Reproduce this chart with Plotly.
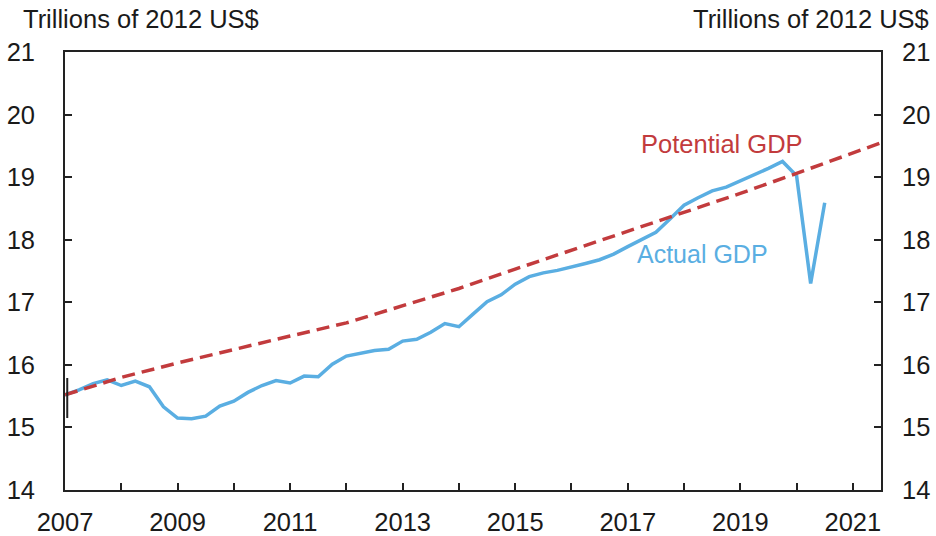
import plotly.graph_objects as go

# ---- data ----
actual_x = [2007 + i * 0.25 for i in range(55)]  # 2007Q1 .. 2020Q3, plotted at quarter start
actual_gdp = [
    15.52, 15.60, 15.70, 15.76,
    15.67, 15.74, 15.65, 15.33,
    15.15, 15.14, 15.18, 15.34,
    15.42, 15.56, 15.67, 15.75,
    15.71, 15.82, 15.81, 16.01,
    16.14, 16.19, 16.23, 16.25,
    16.38, 16.41, 16.52, 16.66,
    16.61, 16.81, 17.01, 17.12,
    17.29, 17.41, 17.47, 17.51,
    17.56, 17.62, 17.68, 17.77,
    17.89, 18.00, 18.12, 18.33,
    18.55, 18.67, 18.78, 18.84,
    18.94, 19.03, 19.14, 19.25,
    19.02, 17.30, 18.59,
]
potential_x = [2007, 2008, 2009, 2010, 2011, 2012, 2013, 2014, 2015, 2016,
               2017, 2018, 2019, 2020, 2021, 2021.5]
potential_gdp = [15.52, 15.80, 16.03, 16.25, 16.46, 16.67, 16.94, 17.22, 17.53, 17.83,
                 18.13, 18.43, 18.74, 19.06, 19.38, 19.55]
marker_x = [2007.04, 2007.04]
marker_y = [15.15, 15.79]

year_ticks = list(range(2007, 2022))
year_labels = [str(y) if y % 2 == 1 else "" for y in year_ticks]
y_ticks = [14, 15, 16, 17, 18, 19, 20, 21]

BLUE = "#5aaee2"
RED = "#c23b3d"
FONT = "Liberation Sans, Arial, sans-serif"

fig = go.Figure()
fig.add_trace(go.Scatter(x=actual_x, y=actual_gdp, mode="lines",
                         line=dict(color=BLUE, width=3.5), showlegend=False))
fig.add_trace(go.Scatter(x=potential_x, y=potential_gdp, mode="lines",
                         line=dict(color=RED, width=3.5, dash="13px,7px"), showlegend=False))
fig.add_trace(go.Scatter(x=marker_x, y=marker_y, mode="lines",
                         line=dict(color="#222222", width=2), showlegend=False))
# invisible trace for right axis
fig.add_trace(go.Scatter(x=[2007], y=[14], yaxis="y2", mode="markers",
                         marker=dict(opacity=0), showlegend=False, hoverinfo="skip"))

axis_common = dict(ticks="inside", ticklen=7, tickwidth=1.5, tickcolor="#222",
                   showline=True, linecolor="#222", linewidth=1.8, showgrid=False,
                   zeroline=False, automargin=False)

fig.update_layout(
    width=936, height=536,
    margin=dict(l=65, r=55, t=52, b=46, autoexpand=False),
    paper_bgcolor="white", plot_bgcolor="white",
    font=dict(family=FONT, size=25.5, color="#1a1a1a"),
    xaxis=dict(range=[2007, 2021.5], tickvals=year_ticks, ticktext=year_labels,
               mirror=True, ticklabelstandoff=8, **axis_common),
    yaxis=dict(range=[14, 21], tickvals=y_ticks, ticklabelstandoff=23, **axis_common),
    yaxis2=dict(range=[14, 21], tickvals=y_ticks, overlaying="y", side="right",
                ticklabelstandoff=14, **axis_common),
    annotations=[
        dict(text="Trillions of 2012 US$", xref="paper", yref="paper",
             x=(21 - 65) / 816, y=(490 - 19) / 438, xanchor="left", yanchor="middle",
             showarrow=False, font=dict(size=25.5)),
        dict(text="Trillions of 2012 US$", xref="paper", yref="paper",
             x=(931 - 65) / 816, y=(490 - 19) / 438, xanchor="right", yanchor="middle",
             showarrow=False, font=dict(size=25.5)),
        dict(text="Potential GDP", x=2018.67, y=19.53, showarrow=False,
             font=dict(size=25.5, color=RED)),
        dict(text="Actual GDP", x=2018.33, y=17.77, showarrow=False,
             font=dict(size=25, color=BLUE)),
    ],
)

# remove the default 8px page margin so the figure fills the window exactly
fig.write_html("out.html", config={"displayModeBar": False},
               post_script="document.body.style.margin='0';document.body.style.overflow='hidden';")
